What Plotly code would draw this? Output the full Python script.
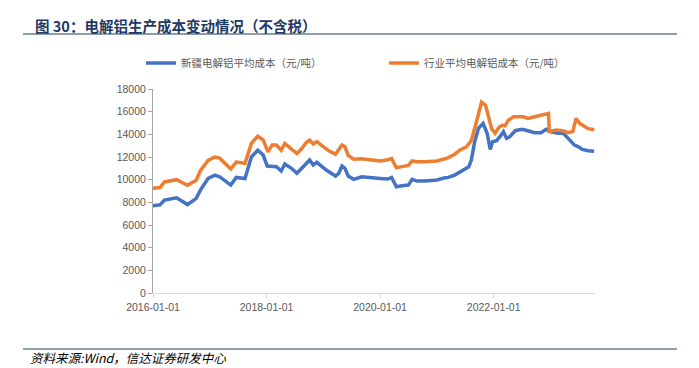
import plotly.graph_objects as go

blue_name = "新疆电解铝平均成本（元/吨）"
orange_name = "行业平均电解铝成本（元/吨）"

orange_dates = ["2016-01-01","2016-02-15","2016-03-15","2016-06-01","2016-08-10","2016-10-05","2016-11-01","2016-12-20",
                "2017-02-01","2017-03-05","2017-05-15","2017-06-20","2017-08-15","2017-09-25","2017-11-05","2017-12-10",
                "2018-01-10","2018-02-05","2018-03-05","2018-04-05","2018-04-28","2018-06-10","2018-07-15","2018-08-15",
                "2018-09-15","2018-10-05","2018-10-28","2018-11-20","2019-01-20","2019-02-05","2019-03-20","2019-04-10",
                "2019-05-01","2019-05-20","2019-06-10","2019-07-15","2019-09-05","2020-01-01","2020-02-20","2020-03-15",
                "2020-04-15","2020-05-20","2020-07-01","2020-07-25","2020-08-25","2020-10-15","2021-01-01","2021-02-15",
                "2021-03-15","2021-04-25","2021-06-01","2021-07-10","2021-08-10","2021-09-15","2021-10-15","2021-11-10",
                "2021-12-01","2021-12-20","2022-01-10","2022-02-05","2022-02-25","2022-03-15","2022-04-05","2022-05-10",
                "2022-07-10","2022-08-10","2022-10-05","2022-11-15","2022-12-20","2022-12-25","2023-02-10","2023-03-25",
                "2023-04-25","2023-05-25","2023-06-15","2023-07-10","2023-07-30","2023-09-01","2023-10-10"]
orange_values = [9250,9300,9800,10000,9500,9950,10800,11700,
                 12000,11900,10950,11550,11450,13200,13850,13500,
                 12450,13050,13050,12600,13200,12750,12300,12750,
                 13300,13500,13150,13350,12650,12550,12250,12600,
                 13050,12900,12150,11800,11850,11650,11750,11880,
                 11050,11150,11250,11650,11580,11580,11650,11820,
                 11950,12250,12650,12900,13450,15250,16850,16550,
                 15550,14450,14100,14650,14800,14750,15250,15550,
                 15550,15400,15600,15700,15850,14250,14380,14300,
                 14150,14250,15400,14950,14800,14500,14400]

blue_dates = ["2016-01-01","2016-02-15","2016-03-15","2016-06-01","2016-08-10","2016-10-05","2016-11-01","2016-12-20",
              "2017-02-01","2017-03-05","2017-05-15","2017-06-20","2017-08-15","2017-09-25","2017-11-05","2017-12-10",
              "2018-01-05","2018-03-05","2018-04-05","2018-04-28","2018-06-10","2018-07-15","2018-08-15","2018-09-15",
              "2018-10-05","2018-10-28","2018-11-20","2019-01-20","2019-02-05","2019-03-20","2019-04-10","2019-05-01",
              "2019-05-20","2019-06-10","2019-07-15","2019-09-05","2020-01-01","2020-02-20","2020-03-15","2020-04-15",
              "2020-05-20","2020-07-01","2020-07-25","2020-08-25","2020-10-15","2021-01-01","2021-02-15","2021-03-15",
              "2021-04-25","2021-06-10","2021-07-25","2021-08-10","2021-09-01","2021-09-25","2021-10-25","2021-11-20",
              "2021-12-10","2021-12-25","2022-01-20","2022-02-10","2022-03-05","2022-03-25","2022-04-15","2022-05-20",
              "2022-07-01","2022-08-10","2022-09-20","2022-11-01","2022-12-05","2023-01-05","2023-02-20","2023-03-25",
              "2023-04-25","2023-06-05","2023-07-01","2023-07-25","2023-09-01","2023-10-10"]
blue_values = [7700,7780,8200,8400,7800,8350,9080,10100,
               10400,10260,9520,10200,10100,12000,12600,12170,
               11200,11140,10760,11380,11000,10560,11000,11450,
               11730,11290,11530,10850,10700,10320,10560,11200,
               11000,10320,10030,10260,10110,10060,10200,9380,
               9470,9520,10030,9880,9880,9970,10140,10200,
               10400,10790,11140,11730,13350,14530,14970,14090,
               12670,13350,13440,13790,14230,13640,13790,14320,
               14440,14320,14140,14140,14440,14230,14090,14090,
               13640,13050,12900,12670,12550,12500]

y_ticks = [0, 2000, 4000, 6000, 8000, 10000, 12000, 14000, 16000, 18000]

fig = go.Figure()
fig.add_trace(go.Scatter(x=blue_dates, y=blue_values, mode="lines", name=blue_name,
                         line=dict(color="#4472C4", width=3.5), legend="legend"))
fig.add_trace(go.Scatter(x=orange_dates, y=orange_values, mode="lines", name=orange_name,
                         line=dict(color="#ED7D31", width=3.5), legend="legend2"))

axis_font = dict(family="Liberation Sans, Arial, sans-serif", size=10.5, color="#595959")
legend_font = dict(family="Noto Sans CJK SC", size=10.5, color="#595959")
legend_y = (293 - 63) / 204

# page body has an 8px margin, so the figure is 8px smaller and positions are shifted
fig.update_layout(
    width=691, height=360,
    margin=dict(l=145, r=104, t=81, b=75),
    paper_bgcolor="white", plot_bgcolor="white",
    showlegend=True,
    legend=dict(orientation="h", x=(141-153)/442, y=legend_y, xanchor="left", yanchor="middle",
                font=legend_font, bgcolor="rgba(0,0,0,0)"),
    legend2=dict(orientation="h", x=(384-153)/442, y=legend_y, xanchor="left", yanchor="middle",
                 font=legend_font, bgcolor="rgba(0,0,0,0)"),
    xaxis=dict(type="date", range=["2016-01-01", "2023-10-15"],
               tick0="2016-01-01", dtick="M24", tickformat="%Y-%m-%d",
               showgrid=False, showline=True, linecolor="#D9D9D9", linewidth=1,
               ticks="outside", ticklen=4, tickcolor="#D9D9D9",
               tickfont=axis_font, zeroline=False),
    yaxis=dict(range=[0, 18000], tickvals=y_ticks, tickformat="d", showgrid=False,
               showline=True, linecolor="#A6A6A6", linewidth=1,
               ticks="outside", ticklen=4, tickcolor="#A6A6A6",
               tickfont=axis_font, zeroline=False),
)

fig.add_annotation(text="<b>图 30：电解铝生产成本变动情况（不含税）</b>",
                   xref="paper", yref="paper", x=(33-153)/442, y=(293-25)/204,
                   xanchor="left", yanchor="middle", showarrow=False,
                   font=dict(family="Noto Sans CJK SC", size=14.5, color="#1F3864"))
fig.add_annotation(text="<i>资料来源:Wind，信达证券研发中心</i>",
                   xref="paper", yref="paper", x=(28-153)/442, y=(293-357)/204,
                   xanchor="left", yanchor="middle", showarrow=False,
                   font=dict(family="Noto Sans CJK SC", size=12.5, color="#000000"))
fig.add_shape(type="line", xref="paper", yref="paper",
              x0=(23-153)/442, x1=(677-153)/442, y0=(293-34)/204, y1=(293-34)/204,
              line=dict(color="#1F3864", width=1))
fig.add_shape(type="line", xref="paper", yref="paper",
              x0=(23-153)/442, x1=(677-153)/442, y0=(293-349)/204, y1=(293-349)/204,
              line=dict(color="#1F3864", width=1))

fig.write_html("out.html")
